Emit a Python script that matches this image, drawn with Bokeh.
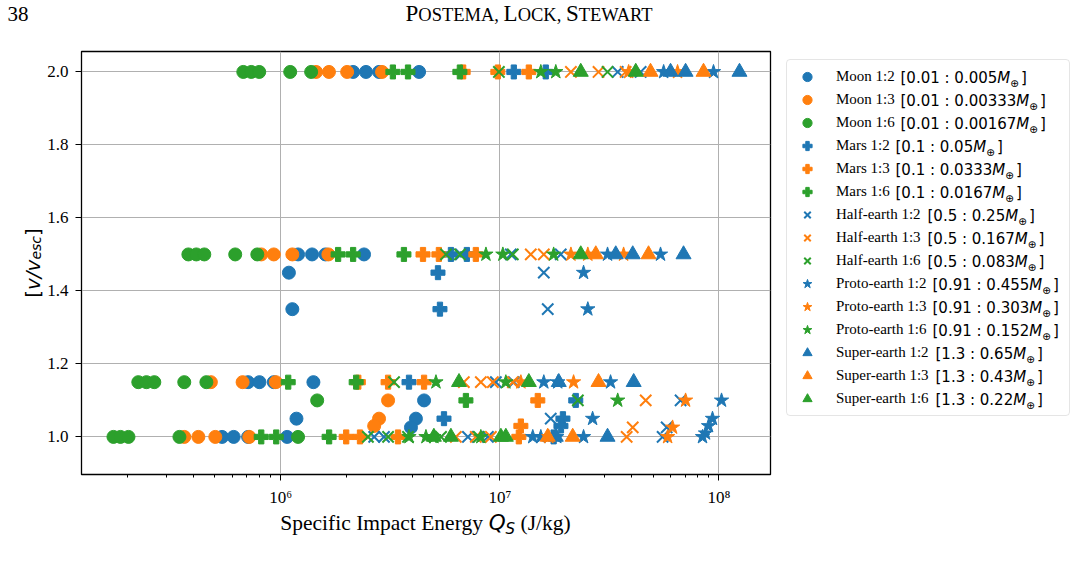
import math
from bokeh.plotting import figure
from bokeh.models import Range1d, FixedTicker, Legend, LegendItem, Label, PrintfTickFormatter
from bokeh.layouts import column, row
from bokeh.embed import file_html
from bokeh.resources import INLINE

# ---------------- data ----------------
moon12_q = [2.14e6, 2.45e6, 2.81e6, 4.28e6, 1.20e6, 1.39e6, 1.60e6, 2.40e6, 1.09e6, 1.13e6,
            7.1e5, 8.0e5, 9.3e5, 1.41e6, 4.51e6, 1.18e6, 4.14e6, 3.93e6, 5.4e5, 6.1e5, 7.1e5, 1.07e6]
moon12_v = [2.0, 2.0, 2.0, 2.0, 1.5, 1.5, 1.5, 1.5, 1.45, 1.35,
            1.15, 1.15, 1.15, 1.15, 1.1, 1.05, 1.05, 1.026, 1.0, 1.0, 1.0, 1.0]
moon13_q = [1.45e6, 1.66e6, 2.01e6, 2.90e6, 8.15e5, 9.3e5, 1.13e6, 1.65e6, 4.8e5, 6.7e5, 9.5e5,
            3.09e6, 2.81e6, 2.67e6, 3.63e5, 4.21e5, 5.03e5, 7.19e5]
moon13_v = [2.0, 2.0, 2.0, 2.0, 1.5, 1.5, 1.5, 1.5, 1.15, 1.15, 1.15,
            1.1, 1.05, 1.03, 1.0, 1.0, 1.0, 1.0]
moon16_q = [6.75e5, 7.34e5, 7.98e5, 1.105e6, 1.377e6, 3.79e5, 4.12e5, 4.48e5, 6.2e5, 7.82e5,
            2.24e5, 2.44e5, 2.65e5, 3.63e5, 4.58e5, 1.467e6, 1.725e5, 1.857e5, 2.02e5, 3.45e5, 1.20e6]
moon16_v = [2.0, 2.0, 2.0, 2.0, 2.0, 1.5, 1.5, 1.5, 1.5, 1.5,
            1.15, 1.15, 1.15, 1.15, 1.15, 1.1, 1.0, 1.0, 1.0, 1.0, 1.0]
mars12_q = [1.158e7, 1.62e7, 5.98e6, 7.07e6, 5.22e6, 5.33e6, 3.85e6, 2.22e7, 5.56e6, 1.94e7, 1.90e7, 1.76e7]
mars12_v = [2.0, 2.0, 1.5, 1.5, 1.45, 1.35, 1.15, 1.1, 1.05, 1.05, 1.03, 1.0]
mars13_q = [6.8e6, 9.79e6, 1.356e7, 4.46e6, 5.27e6, 7.77e6, 2.26e6, 3.09e6, 4.51e6, 1.49e7, 1.247e7,
            1.99e6, 2.30e6, 3.43e6, 1.221e7]
mars13_v = [2.0, 2.0, 2.0, 1.5, 1.5, 1.5, 1.15, 1.15, 1.15, 1.1, 1.03, 1.0, 1.0, 1.0, 1.0]
mars16_q = [3.25e6, 3.81e6, 6.57e6, 1.828e6, 2.14e6, 3.65e6, 1.082e6, 2.21e6, 7.0e6, 8.15e5, 9.54e5, 1.663e6]
mars16_v = [2.0, 2.0, 2.0, 1.5, 1.5, 1.5, 1.15, 1.15, 1.1, 1.0, 1.0, 1.0]
half12_q = [3.45e7, 4.39e7, 6.64e6, 1.122e7, 1.896e7, 1.587e7, 1.654e7, 9.59e6, 1.158e7, 6.68e7,
            1.707e7, 5.77e7, 2.67e6, 2.96e6, 7.15e6, 8.82e6, 5.53e7]
half12_v = [2.0, 2.0, 1.5, 1.5, 1.5, 1.45, 1.35, 1.15, 1.15, 1.1,
            1.05, 1.026, 1.0, 1.0, 1.0, 1.0, 1.0]
half13_q = [2.11e7, 2.82e7, 3.75e7, 1.384e7, 1.587e7, 6.85e6, 8.19e6, 9.29e6, 1.146e7, 4.63e7,
            4.04e7, 6.30e6, 7.77e6, 9.10e6, 3.79e7]
half13_v = [2.0, 2.0, 2.0, 1.5, 1.5, 1.15, 1.15, 1.15, 1.15, 1.1, 1.026, 1.0, 1.0, 1.0, 1.0]
half16_q = [9.9e6, 3.10e7, 5.68e6, 6.57e6, 1.146e7, 3.29e6, 2.27e7, 2.50e6, 3.09e6, 3.81e6, 5.39e6, 8.02e6]
half16_v = [2.0, 2.0, 1.5, 1.5, 1.5, 1.15, 1.1, 1.0, 1.0, 1.0, 1.0, 1.0]
proto12_q = [5.59e7, 9.44e7, 3.10e7, 5.41e7, 2.41e7, 2.52e7, 1.587e7, 1.837e7, 3.20e7, 1.027e8,
             2.65e7, 9.34e7, 8.96e7, 8.68e7, 1.413e7, 1.538e7, 1.818e7, 2.41e7, 8.41e7]
proto12_v = [2.0, 2.0, 1.5, 1.5, 1.45, 1.35, 1.15, 1.15, 1.15, 1.1,
             1.05, 1.05, 1.03, 1.01, 1.0, 1.0, 1.0, 1.0, 1.0]
proto13_q = [3.87e7, 6.47e7, 2.11e7, 2.52e7, 3.67e7, 1.247e7, 2.17e7, 7.04e7, 6.14e7, 1.672e7, 5.83e7]
proto13_v = [2.0, 2.0, 1.5, 1.5, 1.5, 1.15, 1.15, 1.1, 1.026, 1.0, 1.0]
proto16_q = [1.538e7, 1.80e7, 8.64e6, 1.032e7, 1.76e7, 5.11e6, 1.065e7, 3.45e7, 3.85e6, 4.60e6, 5.0e6, 8.19e6]
proto16_v = [2.0, 2.0, 1.5, 1.5, 1.5, 1.15, 1.15, 1.1, 1.0, 1.0, 1.0, 1.0]
super12_q = [6.01e7, 7.04e7, 1.24e8, 3.38e7, 4.04e7, 6.89e7, 1.857e7, 4.08e7, 1.80e7, 3.10e7]
super12_v = [2.0, 2.0, 2.0, 1.5, 1.5, 1.5, 1.15, 1.15, 1.0, 1.0]
super13_q = [4.87e7, 8.50e7, 2.74e7, 4.77e7, 2.82e7, 1.654e7, 2.15e7]
super13_v = [2.0, 2.0, 1.5, 1.5, 1.15, 1.0, 1.0]
super16_q = [2.34e7, 4.17e7, 2.34e7, 6.51e6, 1.356e7, 5.0e6, 5.98e6, 1.011e7, 1.065e7]
super16_v = [2.0, 2.0, 1.5, 1.15, 1.15, 1.0, 1.0, 1.0, 1.0]

series_names = ["Moon 1:2", "Moon 1:3", "Moon 1:6", "Mars 1:2", "Mars 1:3", "Mars 1:6",
                "Half-earth 1:2", "Half-earth 1:3", "Half-earth 1:6",
                "Proto-earth 1:2", "Proto-earth 1:3", "Proto-earth 1:6",
                "Super-earth 1:2", "Super-earth 1:3", "Super-earth 1:6"]
target_mass = ["0.01", "0.01", "0.01", "0.1", "0.1", "0.1", "0.5", "0.5", "0.5",
               "0.91", "0.91", "0.91", "1.3", "1.3", "1.3"]
impactor_mass = ["0.005", "0.00333", "0.00167", "0.05", "0.0333", "0.0167", "0.25", "0.167", "0.083",
                 "0.455", "0.303", "0.152", "0.65", "0.43", "0.22"]
y_ticks = [1.0, 1.2, 1.4, 1.6, 1.8, 2.0]
x_tick_labels = {1e6: "10\u2076", 1e7: "10\u2077", 1e8: "10\u2078"}

# ---------------- styling ----------------
BLUE, ORANGE, GREEN = "#1f77b4", "#ff7f0e", "#2ca02c"
colors = [BLUE, ORANGE, GREEN] * 5
markers = ["circle"] * 3 + ["plus"] * 3 + ["x"] * 3 + ["star"] * 3 + ["triangle"] * 3
msize = {"circle": 13, "plus": 14, "x": 16, "star": 15, "triangle": 15}
data = [(moon12_q, moon12_v), (moon13_q, moon13_v), (moon16_q, moon16_v),
        (mars12_q, mars12_v), (mars13_q, mars13_v), (mars16_q, mars16_v),
        (half12_q, half12_v), (half13_q, half13_v), (half16_q, half16_v),
        (proto12_q, proto12_v), (proto13_q, proto13_v), (proto16_q, proto16_v),
        (super12_q, super12_v), (super13_q, super13_v), (super16_q, super16_v)]

SERIF = "Liberation Serif"
SANS = "DejaVu Sans"
MID_SERIF, MID_SANS = 0.3375, 0.346   # em-box middle above baseline

# page geometry (pixels)
PAGE_W, PAGE_H = 1076, 565
HEAD_H = 40
YLAB_W = 44
MAIN_BOTTOM = 510
LEG_X = 776
FL, FR, FT, FB = 80, 770, 51, 474
ROW_H = MAIN_BOTTOM - HEAD_H


def text_fig(w, h):
    f = figure(width=w, height=h, output_backend="svg", toolbar_location=None,
               x_axis_location=None, y_axis_location=None, min_border=0,
               x_range=Range1d(0, 1), y_range=Range1d(0, 1))
    f.outline_line_color = None
    f.grid.visible = False
    f.background_fill_color = "white"
    f.border_fill_color = "white"
    return f


def put(fig, origin, text, xp, yc, font, size, style="normal", angle=0.0):
    """Place text with its left edge at page x = xp and its middle at page y = yc."""
    left, bottom = origin
    fig.add_layout(Label(x=xp - left, y=bottom - yc, x_units="screen", y_units="screen", text=text,
                         text_font=font, text_font_size=f"{size}px", text_font_style=style,
                         text_color="black", text_baseline="middle", text_align="left",
                         angle=angle, level="overlay"))


TIMES_W = {"S": .556, "p": .5, "e": .444, "c": .444, "i": .278, "f": .333, " ": .25, "I": .333,
           "m": .778, "a": .444, "t": .278, "E": .611, "n": .5, "r": .333, "g": .5, "y": .5,
           "(": .333, "J": .389, "/": .278, "k": .5, ")": .333, "O": .722, "T": .611, "M": .889,
           "A": .722, ",": .25, "L": .611, "C": .667, "K": .722, "W": .944, "R": .667, "P": .556}
DJV_W = {"Q": .787, "S": .635, "[": .39, "]": .39, "v": .592, "/": .337, "e": .615, "s": .521,
         "c": .55, ".": .318, ":": .337, " ": .318, "M": .863, "\u2295": .838}
for d in "0123456789":
    DJV_W[d] = .636


def width(text, table, size):
    return sum(table.get(ch, .55) for ch in text) * size


# ---------------- main chart ----------------
p = figure(width=LEG_X - YLAB_W, height=ROW_H, x_axis_type="log", output_backend="svg",
           toolbar_location=None,
           x_range=Range1d(1.233e5, 1.718e8), y_range=Range1d(0.897, 2.056),
           min_border_left=FL - YLAB_W, min_border_right=LEG_X - FR,
           min_border_top=FT - HEAD_H, min_border_bottom=MAIN_BOTTOM - FB)
p.background_fill_color = "white"
p.border_fill_color = "white"
p.outline_line_color = "black"
p.outline_line_width = 1.3
p.outline_line_alpha = 1.0

for ax in (p.xaxis[0], p.yaxis[0]):
    ax.axis_line_color = "black"
    ax.major_tick_line_color = "black"
    ax.minor_tick_line_color = "black"
    ax.major_tick_out = 6
    ax.major_tick_in = 0
    ax.minor_tick_out = 3
    ax.minor_tick_in = 0
    ax.major_label_text_font = SERIF
    ax.major_label_text_font_size = "17px"
    ax.major_label_text_color = "black"
p.yaxis.ticker = FixedTicker(ticks=y_ticks)
p.ygrid.ticker = FixedTicker(ticks=y_ticks)
p.yaxis.formatter = PrintfTickFormatter(format="%.1f")
p.yaxis.minor_tick_line_color = None
p.yaxis.major_label_standoff = 7
p.xaxis.major_label_standoff = 7
p.xaxis.major_label_overrides = x_tick_labels
for g in (p.xgrid[0], p.ygrid[0]):
    g.grid_line_color = "#b0b0b0"
    g.grid_line_width = 1

# ---------------- legend strip ----------------
# strips in the same row share the chart's frame rows, so their screen y is measured from FB
LEG_ORIGIN = (LEG_X, FB)
lf = text_fig(PAGE_W - LEG_X, ROW_H)
items = []
for name, (q, v), mk, col in zip(series_names, data, markers, colors):
    if mk == "x":
        kw = dict(marker="x", size=msize[mk], line_color=col, line_width=2)
    else:
        kw = dict(marker=mk, size=msize[mk], fill_color=col, line_color=col, line_width=1)
    p.scatter(q, v, **kw)
    r = lf.scatter(q, v, **kw)          # same series; outside this strip's range, only feeds the legend
    items.append(LegendItem(label=name, renderers=[r]))

legend = Legend(items=items, location=(786 - LEG_X, FB - 416), margin=0, padding=5,
                spacing=0, glyph_width=30, glyph_height=23, label_height=23, label_width=228,
                label_standoff=14, label_text_font=SERIF, label_text_font_size="15px",
                label_text_color="black", border_line_color="#cccccc", border_line_width=1,
                background_fill_alpha=0.0)
if "border_radius" in Legend.properties():
    legend.border_radius = 4
lf.add_layout(legend, "center")

name_end = {"Moon": 900, "Mars": 895, "Half-earth": 927, "Proto-earth": 932, "Super-earth": 935}
for i, name in enumerate(series_names):
    cy = 77.5 + 23 * i
    x0 = name_end[name.split()[0]]
    part = "[" + target_mass[i] + " : " + impactor_mass[i]
    put(lf, LEG_ORIGIN, part, x0, cy, SANS, 15)
    x1 = x0 + width(part, DJV_W, 15)
    put(lf, LEG_ORIGIN, "M", x1, cy, SANS, 15, "italic")
    x2 = x1 + width("M", DJV_W, 15)
    put(lf, LEG_ORIGIN, "\u2295", x2, cy + 4.5, SANS, 10.5)
    x3 = x2 + width("\u2295", DJV_W, 10.5) + 2
    put(lf, LEG_ORIGIN, "]", x3, cy, SANS, 15)

# ---------------- header strip ----------------
HEAD_ORIGIN = (0, HEAD_H)
hf = text_fig(PAGE_W, HEAD_H)
HEAD_BASE = 21
put(hf, HEAD_ORIGIN, "38", 7, HEAD_BASE - MID_SERIF * 21, SERIF, 21)
hx = 405
for txt, big in [("P", True), ("OSTEMA,", False), ("L", True), ("OCK,", False), ("S", True), ("TEWART", False)]:
    sz = 23 if big else 18.5
    put(hf, HEAD_ORIGIN, txt, hx, HEAD_BASE - MID_SERIF * sz, SERIF, sz)
    hx += width(txt, TIMES_W, sz) + (0 if big else width(" ", TIMES_W, sz))

# ---------------- y label strip ----------------
yf = text_fig(YLAB_W, ROW_H)
yl_parts = [("[", 20, "normal", 32), ("v/v", 20, "italic", 32), ("esc", 14, "italic", 35.5),
            ("]", 20, "normal", 32)]
total = sum(width(t, DJV_W, s) for t, s, st, xc in yl_parts)
yy = (FT + FB) / 2 + total / 2
for t, s, st, xc in yl_parts:
    # rotated text: its start is at the bottom, its middle line at page x = xc
    yf.add_layout(Label(x=xc, y=FB - yy, x_units="screen", y_units="screen", text=t,
                        text_font=SANS, text_font_size=f"{s}px", text_font_style=st,
                        text_color="black", text_baseline="middle", text_align="left",
                        angle=math.pi / 2, level="overlay"))
    yy -= width(t, DJV_W, s)

# ---------------- x label strip ----------------
X_ORIGIN = (0, PAGE_H)
xf = text_fig(PAGE_W, PAGE_H - MAIN_BOTTOM)
XL_BASE = 529.5
xl_parts = [("Specific Impact Energy", SERIF, 21.5, "normal", 0, TIMES_W, MID_SERIF, True),
            ("Q", SANS, 21.5, "italic", 0, DJV_W, MID_SANS, False),
            ("S", SANS, 15, "italic", 4, DJV_W, MID_SANS, True),
            ("(J/kg)", SERIF, 21.5, "normal", 0, TIMES_W, MID_SERIF, False)]
total = sum(width(t, tb, s) + (width(" ", TIMES_W, 21.5) if sp else 0)
            for t, f, s, st, dy, tb, mid, sp in xl_parts)
xx = (FL + FR) / 2 - total / 2
for t, f, s, st, dy, tb, mid, sp in xl_parts:
    put(xf, X_ORIGIN, t, xx, XL_BASE + dy - mid * s, f, s, st)
    xx += width(t, tb, s) + (width(" ", TIMES_W, 21.5) if sp else 0)

page = column(hf, row(yf, p, lf), xf)
open("out.html", "w").write(file_html(page, INLINE))
